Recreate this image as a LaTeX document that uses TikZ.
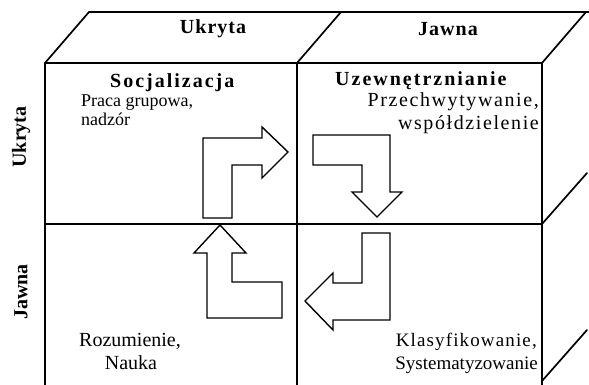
\documentclass[tikz,border=0pt]{standalone}
\usepackage{fontspec}
\setmainfont{Liberation Serif}
\tikzset{
  frame/.style={line width=1.7pt, line cap=round},
  flow/.style={draw, line width=1.4pt, fill=white, line join=miter},
  ls/.style={font=\fontsize{#1}{22}\selectfont, inner sep=0pt},
  lsp/.style 2 args={font=\fontsize{#1}{22}\selectfont\addfontfeature{LetterSpace=#2}, inner sep=0pt},
  bls/.style={font=\fontsize{20}{22}\selectfont\bfseries\addfontfeature{LetterSpace=#1}, inner sep=0pt},
}
\begin{document}
\begin{tikzpicture}[x=1pt,y=-1pt]
\useasboundingbox (0,0) rectangle (589,385);
% front face corners
\coordinate (FTL) at (45,63);
\coordinate (FTM) at (297,63);
\coordinate (FTR) at (542,63);
\coordinate (FML) at (45,224);
\coordinate (FMR) at (542,224);
\coordinate (FBL) at (45,385);
\coordinate (FBM) at (297,385);
\coordinate (FBR) at (542,385);
\coordinate (FBS) at (542,381);
% back / side
\coordinate (BTL) at (89,12);
\coordinate (BTM) at (341,12);
\coordinate (BTR) at (586,12);
\coordinate (BEND) at (589,12);
\coordinate (SMR) at (587,173);
\coordinate (SBR) at (587,330);

\draw[frame] (FTL) -- (FTR);
\draw[frame] (FML) -- (FMR);
\draw[frame] (FTL) -- (FBL);
\draw[frame] (FTM) -- (FBM);
\draw[frame] (FTR) -- (FBR);
\draw[frame] (BTL) -- (BEND);
\draw[frame] (FTL) -- (BTL);
\draw[frame] (FTM) -- (BTM);
\draw[frame] (FTR) -- (BTR);
\draw[frame] (FMR) -- (SMR);
\draw[frame] (FBS) -- (SBR);

% arrows
\draw[flow] (203,218) -- (203,138) -- (262,138) -- (262,127) -- (288,152) -- (262,178) -- (262,165) -- (232,165) -- (232,218) -- cycle;
\draw[flow] (313,135) -- (390,135) -- (390,192) -- (402,192) -- (377,217) -- (352,192) -- (362,192) -- (362,165) -- (313,165) -- cycle;
\draw[flow] (220,225) -- (246,253) -- (232,253) -- (232,282) -- (282,282) -- (282,318) -- (207,318) -- (207,253) -- (194,253) -- cycle;
\draw[flow] (362,233) -- (390,233) -- (390,320) -- (333,320) -- (333,330) -- (305,301) -- (333,273) -- (333,283) -- (362,283) -- cycle;

% headers
\node[bls=5] (hU) at (213,29) {Ukryta};
\node[bls=5] (hJ) at (448,29) {Jawna};
\node[bls=0, rotate=90] (rU) at (21,137) {Ukryta};
\node[bls=0, rotate=90] (rJ) at (21,292) {Jawna};

% quadrant texts
\node[bls=10, anchor=base west] (soc) at (110,88) {Socjalizacja};
\node[ls=18, anchor=base west] (praca) at (81,107) {Praca grupowa,};
\node[ls=18, anchor=base west] (nadz) at (81,126) {nadzór};
\node[bls=10, anchor=base west] (uzew) at (335,86) {Uzewnętrznianie};
\node[lsp={20}{8}, anchor=base east] (przech) at (539,107) {Przechwytywanie,};
\node[lsp={20}{8}, anchor=base east] (wspol) at (539,130) {współdzielenie};
\node[ls=20, anchor=base] (rozum) at (130,346) {Rozumienie,};
\node[ls=20, anchor=base] (nauka) at (131,369) {Nauka};
\node[lsp={19}{6}, anchor=base east] (klas) at (537,346) {Klasyfikowanie,};
\node[ls=19, anchor=base east] (syst) at (538,369) {Systematyzowanie};
\end{tikzpicture}
\end{document}
